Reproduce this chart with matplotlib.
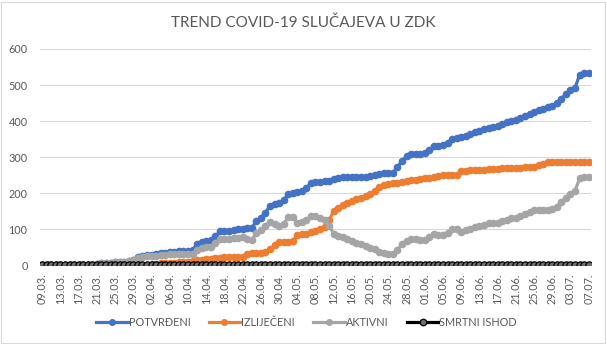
import matplotlib
matplotlib.use("Agg")
import matplotlib.pyplot as plt
from matplotlib.patches import Rectangle
import numpy as np
import pandas as pd

# daily categories 09.03. - 07.07.
dates = pd.date_range("2020-03-09", "2020-07-07", freq="D")
labels = [d.strftime("%d.%m.") for d in dates]

potvrdeni = [0, 0, 0, 0, 0, 0, 0, 0, 0, 0,
             0, 2, 3, 5, 6, 7, 8, 9, 10, 11,
             14, 22, 26, 28, 29, 31, 33, 35, 36, 37,
             39, 40, 41, 42, 58, 64, 68, 70, 80, 94,
             95, 96, 98, 100, 102, 103, 103, 123, 132, 145,
             165, 170, 172, 180, 198, 200, 202, 205, 215, 228,
             232, 232, 233, 235, 238, 242, 245, 245, 245, 246,
             246, 246, 247, 250, 254, 256, 256, 257, 272, 290,
             302, 308, 310, 310, 312, 320, 330, 332, 334, 340,
             350, 353, 355, 360, 365, 370, 372, 378, 382, 384,
             385, 392, 397, 400, 403, 408, 414, 420, 426, 430,
             434, 438, 442, 450, 462, 475, 485, 493, 528, 533,
             533]

izlijeceni = [0, 0, 0, 0, 0, 0, 0, 0, 0, 0,
              0, 0, 0, 0, 0, 0, 0, 0, 0, 0,
              0, 1, 2, 2, 3, 4, 5, 6, 6, 7,
              8, 9, 10, 12, 15, 16, 17, 18, 19, 20,
              22, 22, 23, 24, 24, 30, 33, 34, 34, 36,
              46, 55, 64, 65, 65, 66, 85, 86, 88, 92,
              95, 100, 107, 125, 150, 160, 166, 172, 178, 184,
              188, 192, 198, 205, 218, 223, 225, 227, 229, 231,
              234, 236, 237, 239, 241, 242, 244, 248, 250, 250,
              250, 251, 262, 262, 263, 264, 264, 265, 266, 268,
              268, 270, 270, 270, 271, 271, 272, 272, 273, 278,
              280, 286, 287, 287, 287, 287, 287, 287, 287, 287,
              287]

aktivni = [0, 0, 0, 0, 0, 0, 0, 0, 0, 0,
           0, 2, 3, 5, 6, 7, 8, 9, 10, 11,
           14, 21, 24, 26, 26, 27, 28, 29, 30, 30,
           31, 31, 31, 30, 43, 48, 51, 52, 61, 74,
           73, 74, 75, 76, 78, 73, 70, 89, 98, 109,
           119, 115, 108, 115, 133, 134, 117, 119, 127, 136,
           137, 132, 126, 110, 88, 82, 79, 73, 67, 62,
           58, 54, 49, 45, 36, 33, 31, 30, 43, 59,
           68, 72, 73, 71, 71, 78, 86, 84, 84, 90,
           100, 102, 93, 98, 102, 106, 108, 113, 116, 116,
           117, 122, 127, 130, 132, 137, 142, 148, 153, 152,
           154, 152, 155, 163, 175, 188, 198, 206, 241, 246,
           246]

smrtni_ishod = [0] * len(dates)

series = [
    ("POTVRĐENI", potvrdeni, "#4472C4", "#4472C4", 4.6),
    ("IZLIJEČENI", izlijeceni, "#ED7D31", "#ED7D31", 4.6),
    ("AKTIVNI", aktivni, "#A5A5A5", "#A5A5A5", 4.6),
    ("SMRTNI ISHOD", smrtni_ishod, "#000000", "#6E6E6E", 5.2),
]

plt.rcParams["font.family"] = ["Lato", "DejaVu Sans"]
txt = "#595959"

fig = plt.figure(figsize=(6.07, 3.44), dpi=100)
ax = fig.add_axes([0.0659, 0.2288, 0.9077, 0.6288])

x = np.arange(len(dates))
for name, vals, col, face, ms in series:
    ax.plot(x, vals, color=col, lw=2.3, marker="o", ms=ms,
            markerfacecolor=face, markeredgecolor=col, markeredgewidth=0.9,
            label=name)

ax.set_xlim(-0.5, len(dates) - 0.5)
ax.set_ylim(0, 600)
ax.set_yticks(np.arange(0, 601, 100))
ax.set_xticks(x[::4])
ax.set_xticklabels(labels[::4], rotation=90)
ax.tick_params(axis="both", length=0, labelsize=7.8, colors=txt)
ax.tick_params(axis="x", pad=6)
ax.tick_params(axis="y", pad=9)
ax.grid(axis="y", color="#D9D9D9", lw=0.8)
ax.set_axisbelow(True)
for s in ax.spines.values():
    s.set_visible(False)

fig.suptitle("TREND COVID-19 SLUČAJEVA U ZDK", y=0.955, fontsize=11, color=txt)

leg = fig.legend(loc="center", bbox_to_anchor=(0.505, 0.062), ncol=4, frameon=False,
                 fontsize=7.8, handlelength=2.9, columnspacing=1.7, handletextpad=0.1,
                 markerscale=0.9)
for t in leg.get_texts():
    t.set_color(txt)

fig.patches.append(Rectangle((0.002, 0.004), 0.995, 0.991, transform=fig.transFigure,
                             fill=False, edgecolor="#D9D9D9", lw=0.8))

fig.savefig("out.png", dpi=100)
